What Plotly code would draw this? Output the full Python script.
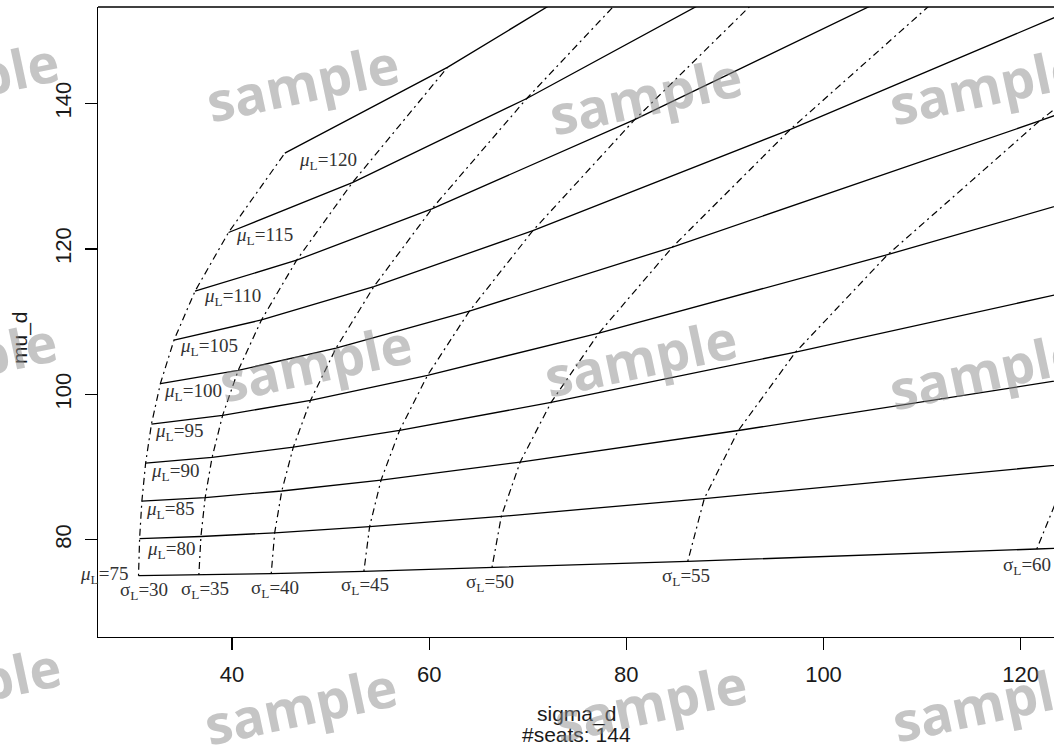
import plotly.graph_objects as go

# ---------------- data ----------------
MU_L = [75, 80, 85, 90, 95, 100, 105, 110, 115, 120]
SIGMA_L = [30, 35, 40, 45, 50, 55, 60, 65, 70]
SIGMA_L_LINES = [30, 35, 40, 45, 50, 55, 60]

# sigma_d / mu_d at each sigma_L (30..70) for each mu_L line (None = no point)
sd_75 = [30.52, 36.64, 43.98, 53.38, 66.37, 86.23, 121.63, 206.19, 720.26]
md_75 = [75.06, 75.16, 75.34, 75.65, 76.16, 77.03, 78.73, 82.99, 109.69]
sd_80 = [30.63, 36.85, 44.33, 53.96, 67.32, 87.91, 125.16, 217.26, 893.10]
md_80 = [80.16, 80.45, 80.96, 81.81, 83.22, 85.67, 90.46, 102.91, 196.91]
sd_85 = [30.86, 37.28, 45.05, 55.12, 69.23, 91.36, 132.67, 242.64, 1681.71]
md_85 = [85.31, 85.81, 86.71, 88.21, 90.68, 95.03, 103.78, 128.20, 455.98]
sd_90 = [31.24, 37.98, 46.22, 57.00, 72.37, 97.17, 145.99, 295.31, None]
md_90 = [90.54, 91.33, 92.73, 95.04, 98.90, 105.81, 120.41, 167.03, None]
sd_95 = [31.83, 39.05, 47.97, 59.84, 77.22, 106.50, 169.50, 422.84, None]
md_95 = [95.90, 97.11, 99.18, 102.62, 108.43, 119.20, 143.88, 246.93, None]
sd_100 = [32.74, 40.63, 50.56, 64.08, 84.68, 121.91, 215.26, 996.32, None]
md_100 = [101.49, 103.30, 106.37, 111.45, 120.26, 137.60, 183.50, 579.06, None]
sd_105 = [34.12, 42.99, 54.39, 70.52, 96.65, 149.70, 330.98, None, None]
md_105 = [107.47, 110.23, 114.82, 122.51, 136.45, 166.89, 275.59, None, None]
sd_110 = [36.25, 46.56, 60.28, 80.84, 117.75, 211.15, 1094.59, None, None]
md_110 = [114.18, 118.45, 125.52, 137.77, 161.91, 226.73, 859.43, None, None]
sd_115 = [39.65, 52.21, 69.90, 99.17, 162.89, 449.62, None, None, None]
md_115 = [122.26, 129.11, 140.69, 162.22, 212.72, 449.79, None, None, None]
sd_120 = [45.36, 61.85, 87.62, 139.40, 324.62, None, None, None, None]
md_120 = [133.17, 144.96, 166.18, 212.83, 388.62, None, None, None, None]

X_TICKS = [40, 60, 80, 100, 120]
Y_TICKS = [80, 100, 120, 140]
X_TITLE = "sigma_d"
SUB_TITLE = "#seats: 144"
Y_TITLE = "mu_d"
WATERMARK = "sample"

SD = {75: sd_75, 80: sd_80, 85: sd_85, 90: sd_90, 95: sd_95,
      100: sd_100, 105: sd_105, 110: sd_110, 115: sd_115, 120: sd_120}
MD = {75: md_75, 80: md_80, 85: md_85, 90: md_90, 95: md_95,
      100: md_100, 105: md_105, 110: md_110, 115: md_115, 120: md_120}

# ---------------- layout constants ----------------
W, H = 1054, 755
L, R, T, B = 98, 0, 7, 118
PW, PH = W - L - R, H - T - B
X_RANGE = [26.41, 123.38]
Y_RANGE = [66.63, 153.27]
INK = "#1a1a1a"
SERIF = "Liberation Serif, DejaVu Serif, serif"
SANS = "Liberation Sans, Arial, sans-serif"


def px(xp, yp):
    """page pixel position -> paper coordinates"""
    return (xp - L) / PW, (H - B - yp) / PH


fig = go.Figure()

# solid lines of constant mu_L
for m in MU_L:
    xs = [x for x in SD[m] if x is not None]
    ys = [y for y in MD[m] if y is not None]
    fig.add_trace(go.Scatter(x=xs, y=ys, mode="lines",
                             line=dict(color="black", width=1.3),
                             hoverinfo="skip", showlegend=False))

# dash-dot lines of constant sigma_L
for j, s in enumerate(SIGMA_L):
    if s not in SIGMA_L_LINES:
        continue
    xs, ys = [], []
    for m in MU_L:
        if SD[m][j] is not None:
            xs.append(SD[m][j])
            ys.append(MD[m][j])
    fig.add_trace(go.Scatter(x=xs, y=ys, mode="lines",
                             line=dict(color="black", width=1.2,
                                       dash="2px,4px,7px,4px"),
                             hoverinfo="skip", showlegend=False))

ann = []
# mu_L labels
mu_offsets = {75: (-9, 1), 80: (5, -11), 85: (2, -9), 90: (3, -9), 95: (2, -8),
              100: (2, -8), 105: (4, -7), 110: (7, -6), 115: (5, -4), 120: (12, -8)}
for m in MU_L:
    dx, dy = mu_offsets[m]
    ann.append(dict(x=SD[m][0], y=MD[m][0], xref="x", yref="y",
                    text=f"<i>\u03bc</i><sub>L</sub>={m}", showarrow=False,
                    xanchor="right" if m == MU_L[0] else "left", yanchor="middle",
                    xshift=dx, yshift=dy,
                    font=dict(family=SERIF, size=19, color="#333333")))
# sigma_L labels along the lowest mu_L line
sig_dx = {30: 5, 35: 6, 40: 4, 45: 1, 50: -2, 55: -2, 60: -10}
sig_dy = {30: -15, 35: -15, 40: -15, 45: -15, 50: -15, 55: -16, 60: -17}
for j, s in enumerate(SIGMA_L):
    if s not in SIGMA_L_LINES:
        continue
    ann.append(dict(x=sd_75[j], y=md_75[j], xref="x", yref="y",
                    text=f"\u03c3<sub>L</sub>={s}", showarrow=False,
                    xanchor="center", yanchor="middle",
                    xshift=sig_dx[s], yshift=sig_dy[s],
                    font=dict(family=SERIF, size=19, color="#333333")))

# axis titles
xa, ya = px(576, 714)
ann.append(dict(x=xa, y=ya, xref="paper", yref="paper", text=X_TITLE, showarrow=False,
                xanchor="center", yanchor="middle", font=dict(family=SANS, size=21, color=INK)))
xa, ya = px(576, 735)
ann.append(dict(x=xa, y=ya, xref="paper", yref="paper", text=SUB_TITLE, showarrow=False,
                xanchor="center", yanchor="middle", font=dict(family=SANS, size=21, color=INK)))
xa, ya = px(20, 338)
ann.append(dict(x=xa, y=ya, xref="paper", yref="paper", text=Y_TITLE, showarrow=False,
                textangle=-90, xanchor="center", yanchor="middle",
                font=dict(family=SANS, size=21, color=INK)))

# watermark
for (wx, wy) in [(-38, 80), (302, 82), (645, 95), (985, 85),
                 (-40, 360), (315, 362), (640, 357), (985, 370),
                 (-36, 685), (300, 705), (650, 702), (988, 702)]:
    xa, ya = px(wx, wy)
    ann.append(dict(x=xa, y=ya, xref="paper", yref="paper", text=f"<b>{WATERMARK}</b>",
                    showarrow=False, textangle=-12, xanchor="center", yanchor="middle",
                    font=dict(family="Open Sans, DejaVu Sans, sans-serif", size=54,
                              color="rgba(140,140,140,0.5)")))

fig.update_layout(
    width=W, height=H,
    margin=dict(l=L, r=R, t=T, b=B, pad=0, autoexpand=False),
    paper_bgcolor="white", plot_bgcolor="white",
    annotations=ann,
    xaxis=dict(range=X_RANGE, tickvals=X_TICKS, ticktext=[str(v) for v in X_TICKS],
               automargin=False,
               showgrid=False, zeroline=False, showline=True, linecolor="black",
               linewidth=1.3, ticks="outside", ticklen=12, tickwidth=1.2, tickcolor="black",
               ticklabelstandoff=5,
               tickfont=dict(family=SANS, size=22, color=INK)),
    yaxis=dict(range=Y_RANGE, tickvals=Y_TICKS, ticktext=[str(v) for v in Y_TICKS],
               automargin=False,
               showgrid=False, zeroline=False, showline=True, linecolor="black",
               linewidth=1.3, ticks="outside", ticklen=12, tickwidth=1.2, tickcolor="black",
               tickangle=-90, ticklabelstandoff=5,
               tickfont=dict(family=SANS, size=22, color=INK)),
    shapes=[dict(type="line", xref="paper", yref="paper", x0=0, x1=1, y0=1, y1=1,
                 line=dict(color="black", width=1.3))],
)

# let the figure fill the browser window exactly (no default page margin)
fig.write_html("out.html",
               config={"displayModeBar": False, "staticPlot": True},
               post_script="document.body.style.margin='0';document.body.style.overflow='hidden';")
